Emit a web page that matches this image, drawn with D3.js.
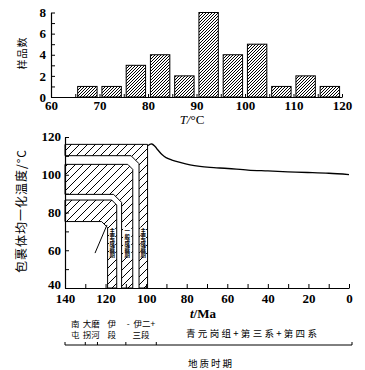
<!DOCTYPE html>
<html>
<head>
<meta charset="utf-8">
<script src="https://cdn.jsdelivr.net/npm/d3@7"></script>
<style>
  body { margin: 0; background: #fff; }
  svg { display: block; }
  .num { font-family: "Liberation Serif", serif; font-weight: bold; font-size: 13px; }
  .cjk { font-family: "Noto Sans CJK SC", sans-serif; }
</style>
</head>
<body>
<svg id="chart" width="365" height="370"></svg>
<script>
// ---- histogram data ----
var binStarts = [65, 70, 75, 80, 85, 90, 95, 100, 105, 110, 115];
var sampleCounts = [1, 1, 3, 4, 2, 8, 4, 5, 1, 2, 1];
var histXTicks = [60, 70, 80, 90, 100, 110, 120];
var histYTicks = [0, 2, 4, 6, 8];

// ---- thermal history data ----
var curveAge  = [99.3, 97.3, 95.6, 94.2, 92.2, 90.2, 87.3, 83.3, 78.4, 73.5, 68.5, 59.7, 49.8, 40.0, 30.1, 20.3, 9.9, 0];
var curveTemp = [115.4, 116.3, 115.0, 113.1, 110.7, 109.1, 107.8, 106.5, 105.2, 104.4, 103.9, 103.3, 102.5, 102.0, 101.5, 101.2, 100.8, 100.1];
var ageTicks = [140, 120, 100, 80, 60, 40, 20, 0];
var tempTicks = [40, 60, 80, 100, 120];

// hatched L-bands: temperature range (top/bot) and age range of the vertical leg
var bandTop   = [116.1, 105.5, 86.6];
var bandBot   = [110.1, 89.6, 75.2];
var bandLeft  = [103.5, 112.1, 119.0];
var bandRight = [99.3, 106.6, 114.5];
var bandNotes = ["主要成藏期", "一般成藏期", "主要成藏期"];
var noteTemp = [72.3, 56.4];
var arrowAge = [125.2, 119.3], arrowTemp = [58.5, 73.4];

// geological periods (boundaries in Ma) and their labels
var periodBounds = [140, 130, 124, 110, 95, 0];
var periodRow1 = ["南", "大磨", "伊", "-  伊二+", "青元岗组+第三系+第四系"];
var periodRow2 = ["屯", "拐河", "段", "三段", ""];

var svg = d3.select("#chart");

// ---- pattern defs ----
var defs = svg.append("defs");
defs.append("pattern").attr("id", "fine").attr("patternUnits", "userSpaceOnUse")
    .attr("width", 3).attr("height", 3)
  .append("path").attr("d", "M-1,1 l2,-2 M0,3 l3,-3 M2,4 l2,-2")
    .attr("stroke", "#000").attr("stroke-width", 1);
defs.append("pattern").attr("id", "wide").attr("patternUnits", "userSpaceOnUse")
    .attr("width", 8).attr("height", 8)
  .append("path").attr("d", "M-2,2 l4,-4 M0,8 l8,-8 M6,10 l4,-4")
    .attr("stroke", "#000").attr("stroke-width", 1);

/****** top: histogram ******/
var xT = d3.scaleLinear().domain([60, 120]).range([51, 342]);
var yN = d3.scaleLinear().domain([0, 8]).range([97, 12.5]);

var histG = svg.append("g");

histG.selectAll("rect.bar").data(binStarts).enter().append("rect")
    .attr("class", "bar")
    .attr("x", function (d) { return xT(d + 0.5); })
    .attr("width", function (d) { return xT(d + 4.5) - xT(d + 0.5); })
    .attr("y", function (d, i) { return yN(sampleCounts[i]); })
    .attr("height", function (d, i) { return yN(0) - yN(sampleCounts[i]); })
    .attr("fill", "url(#fine)").attr("stroke", "#000").attr("stroke-width", 1);

var histX = histG.append("g").attr("transform", "translate(0," + yN(0) + ")")
    .call(d3.axisBottom(xT).tickValues(d3.range(60, 121, 5)).tickSizeInner(-3).tickSizeOuter(0)
      .tickFormat(function (d) { return histXTicks.indexOf(d) >= 0 ? d : ""; }));
var histY = histG.append("g").attr("transform", "translate(" + xT(60) + ",0)")
    .call(d3.axisLeft(yN).tickValues(d3.range(0, 9)).tickSizeInner(-4).tickSizeOuter(0)
      .tickFormat(function (d) { return histYTicks.indexOf(d) >= 0 ? d : ""; }));

[histX, histY].forEach(function (a) {
  a.select(".domain").attr("stroke-width", 1.2);
  a.selectAll("text").attr("class", "num").attr("font-family", null).attr("font-size", null).attr("fill", "#000");
});
histX.selectAll("text").attr("y", 4);
histY.selectAll("text").attr("x", -5);

histG.append("text").attr("class", "cjk").attr("font-size", 10).attr("letter-spacing", 1)
    .attr("text-anchor", "middle").attr("transform", "translate(26,53) rotate(-90)")
    .text("样品数");
var tl = histG.append("text").attr("x", 192).attr("y", 124).attr("text-anchor", "middle")
    .attr("font-family", "Liberation Serif").attr("font-size", 13);
tl.append("tspan").attr("font-style", "italic").text("T/");
tl.append("tspan").text("°C");

/****** bottom: temperature vs age ******/
var xA = d3.scaleLinear().domain([140, 0]).range([65, 349]);
var yH = d3.scaleLinear().domain([40, 120]).range([288, 137]);

var histB = svg.append("g");
var chamferOut = [0, 5, 5], chamferIn = [8, 8, 6];

bandTop.forEach(function (t, i) {
  var x0 = xA(140), xl = xA(bandLeft[i]), xr = xA(bandRight[i]),
      yt = yH(t), yb = yH(bandBot[i]), y0 = yH(40),
      co = chamferOut[i], ci = chamferIn[i];
  var pts = [[x0, yt], [xr - co, yt], [xr, yt + co], [xr, y0], [xl, y0],
             [xl, yb + ci], [xl - ci, yb], [x0, yb]];
  histB.append("path").attr("d", d3.line()(pts) + "Z")
      .attr("fill", "url(#wide)").attr("stroke", "#000").attr("stroke-width", 1);

  var bx = xl + 1.5, bw = xr - xl - 3;
  histB.append("rect").attr("x", bx).attr("width", bw)
      .attr("y", yH(noteTemp[0])).attr("height", yH(noteTemp[1]) - yH(noteTemp[0]))
      .attr("fill", "#fff");
  histB.append("text").attr("class", "cjk").attr("font-size", 5.5).attr("font-weight", "bold")
      .attr("x", bx + bw / 2).attr("y", yH(noteTemp[0]) + 1)
      .style("writing-mode", "vertical-rl").attr("letter-spacing", 0.5)
      .text(bandNotes[i]);
});

histB.append("line")
    .attr("x1", xA(arrowAge[0])).attr("y1", yH(arrowTemp[0]))
    .attr("x2", xA(arrowAge[1])).attr("y2", yH(arrowTemp[1]))
    .attr("stroke", "#000").attr("stroke-width", 1);

histB.append("path")
    .attr("d", d3.line().x(function (d, i) { return xA(curveAge[i]); })
      .y(function (d, i) { return yH(curveTemp[i]); })
      .curve(d3.curveCatmullRom)(curveAge))
    .attr("fill", "none").attr("stroke", "#000").attr("stroke-width", 1.3);

var botX = histB.append("g").attr("transform", "translate(0," + yH(40) + ")")
    .call(d3.axisBottom(xA).tickValues(d3.range(0, 141, 10)).tickSizeInner(-4).tickSizeOuter(0)
      .tickFormat(function (d) { return ageTicks.indexOf(d) >= 0 ? d : ""; }));
var botY = histB.append("g").attr("transform", "translate(" + xA(140) + ",0)")
    .call(d3.axisLeft(yH).tickValues(d3.range(40, 121, 10)).tickSizeInner(-4).tickSizeOuter(0)
      .tickFormat(function (d) { return tempTicks.indexOf(d) >= 0 ? d : ""; }));
[botX, botY].forEach(function (a) {
  a.select(".domain").attr("stroke-width", 1.2);
  a.selectAll("text").attr("class", "num").attr("font-family", null).attr("font-size", null).attr("fill", "#000");
});
botX.selectAll("text").attr("y", 6);
botY.selectAll("text").attr("x", -4)
    .attr("dy", function (d) { return d === 40 ? "0.05em" : "0.3em"; });

histB.append("text").attr("class", "cjk").attr("font-size", 12).attr("letter-spacing", 1)
    .attr("text-anchor", "middle").attr("transform", "translate(26,211) rotate(-90)")
    .text("包裹体均一化温度/°C");
var al = histB.append("text").attr("x", 203).attr("y", 318).attr("text-anchor", "middle")
    .attr("font-family", "Liberation Serif").attr("font-weight", "bold").attr("font-size", 13);
al.append("tspan").attr("font-style", "italic").text("t");
al.append("tspan").text("/Ma");

// geological period strip
var strip = histB.append("g").attr("transform", "translate(0,345)");
strip.append("line").attr("x1", xA(140)).attr("x2", xA(0) + 3)
    .attr("stroke", "#000").attr("stroke-width", 1);
strip.selectAll("line.tk").data(periodBounds).enter().append("line").attr("class", "tk")
    .attr("x1", function (d) { return d === 0 ? xA(d) + 3 : xA(d); })
    .attr("x2", function (d) { return d === 0 ? xA(d) + 3 : xA(d); })
    .attr("y1", 0).attr("y2", -3).attr("stroke", "#000").attr("stroke-width", 1);

periodRow1.forEach(function (lab, i) {
  var cx = (xA(periodBounds[i]) + xA(periodBounds[i + 1])) / 2;
  var wide = i === 4;
  histB.append("text").attr("class", "cjk").attr("font-size", wide ? 9.5 : 8.5)
      .attr("letter-spacing", wide ? 2.3 : 0)
      .attr("text-anchor", "middle").attr("x", cx).attr("y", wide ? 337 : 327)
      .style("white-space", "pre").text(lab);
  if (periodRow2[i]) {
    histB.append("text").attr("class", "cjk").attr("font-size", 8.5)
        .attr("text-anchor", "middle").attr("x", cx).attr("y", 338).text(periodRow2[i]);
  }
});

histB.append("text").attr("class", "cjk").attr("font-size", 9.5).attr("letter-spacing", 2)
    .attr("text-anchor", "middle").attr("x", 211).attr("y", 367).text("地质时期");
</script>
</body>
</html>
